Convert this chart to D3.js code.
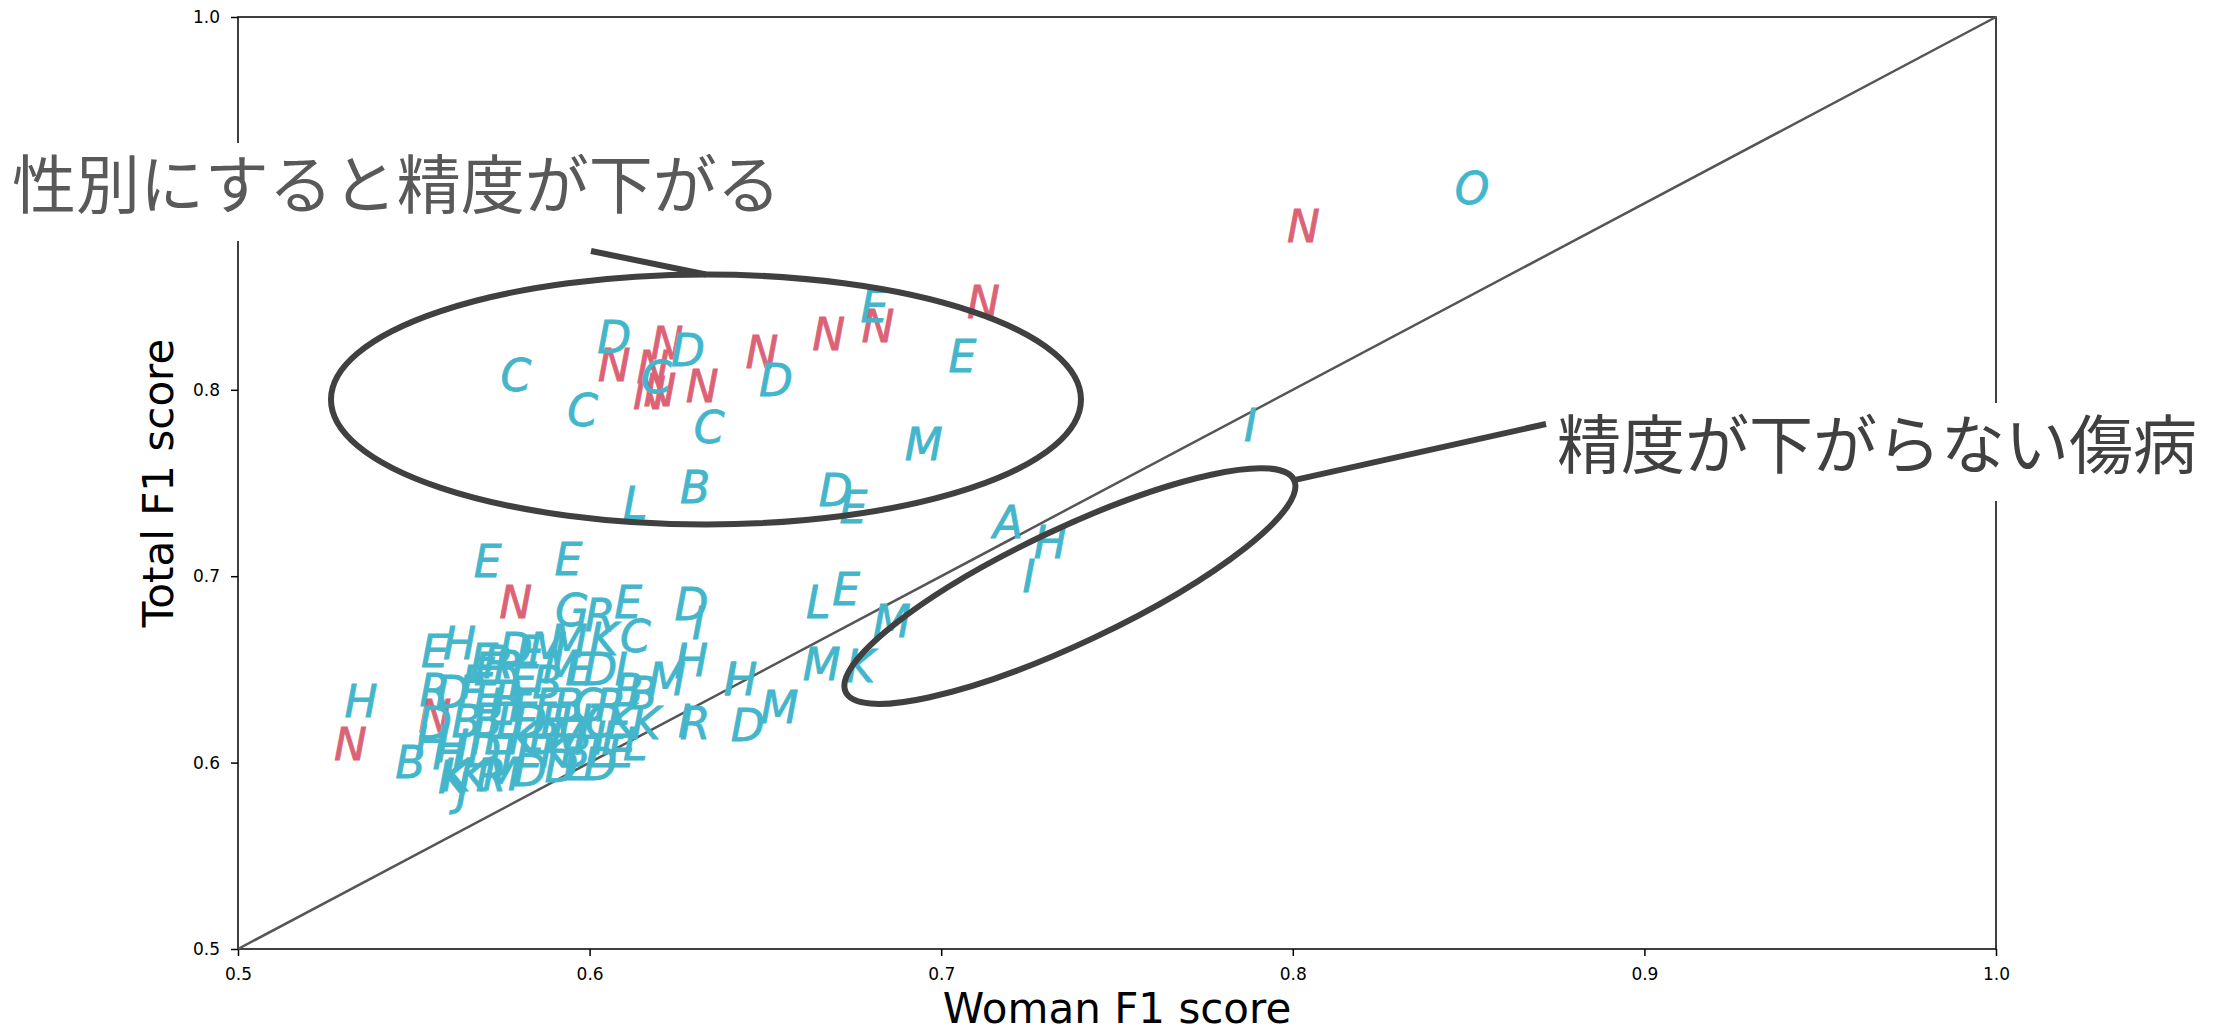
<!DOCTYPE html>
<html><head><meta charset="utf-8">
<script src="https://cdn.jsdelivr.net/npm/d3@7"></script>
<style>html,body{margin:0;padding:0;background:#fff;}</style>
</head><body>
<svg id="chart" width="2234" height="1031"></svg>
<script>
// ---- data ----
const xTicks = [0.5, 0.6, 0.7, 0.8, 0.9, 1.0];
const yTicks = [0.5, 0.6, 0.7, 0.8, 0.9, 1.0];
const xLabel = "Woman F1 score";
const yLabel = "Total F1 score";
const note1 = "性別にすると精度が下がる";
const note2 = "精度が下がらない傷病";

const labels = [
 "N","N","N","N","N","N","N","N","N","N","N","N","N","N",
 "D","D","C","C","C","C","D","E","E","M","L","B","D","E","A","H","I","I","O",
 "E","E","G","R","E","D","I","L","E","M","M","K","C","M","K","I","H","I","H","M",
 "D","I","R","K","L","M","B","H","B","E","H","E","R","D","H","K","J","R","D","E",
 "M","F","E","R","E","B","M","E","D","I","D","F","E","R","B","B","B","K","H","H",
 "K","K","R","M","D","D",
 "H","E","F","B","G","R","L","D","E","H","C","I","E","K","B","M","H","F",
 "D","J","E","K","B","L","E","L","D"
];
const womanF1 = [
 0.803,0.712,0.682,0.668,0.649,0.622,0.607,0.618,0.617,0.620,0.632,0.579,0.532,0.556,
 0.607,0.628,0.579,0.598,0.619,0.634,0.653,0.681,0.706,0.695,0.613,0.630,0.670,0.675,0.719,0.731,0.725,0.788,0.851,
 0.571,0.594,0.595,0.603,0.611,0.629,0.631,0.665,0.673,0.686,0.666,0.677,0.613,0.594,0.604,0.626,0.629,0.640,0.643,0.654,
 0.645,0.627,0.630,0.616,0.613,0.622,0.615,0.535,0.549,0.556,0.563,0.570,0.556,0.556,0.560,0.561,0.564,0.574,0.579,0.583,
 0.588,0.567,0.571,0.577,0.581,0.588,0.592,0.597,0.603,0.609,0.561,0.566,0.571,0.577,0.611,0.565,0.571,0.609,0.555,0.561,
 0.562,0.567,0.572,0.575,0.583,0.592,
 0.576,0.582,0.588,0.594,0.600,0.606,0.577,0.583,0.590,0.596,0.603,0.568,0.574,0.581,0.587,0.594,0.600,0.607,
 0.570,0.577,0.583,0.590,0.596,0.603,0.609,0.596,0.603
];
const totalF1 = [
 0.888,0.847,0.834,0.830,0.820,0.825,0.813,0.812,0.798,0.800,0.802,0.686,0.610,0.625,
 0.828,0.821,0.808,0.789,0.807,0.780,0.805,0.845,0.818,0.771,0.739,0.748,0.746,0.737,0.729,0.718,0.700,0.781,0.908,
 0.708,0.709,0.682,0.679,0.686,0.685,0.675,0.686,0.693,0.676,0.653,0.652,0.668,0.665,0.666,0.654,0.655,0.645,0.645,0.630,
 0.620,0.622,0.621,0.621,0.610,0.645,0.637,0.633,0.600,0.660,0.664,0.655,0.639,0.621,0.605,0.592,0.586,0.654,0.661,0.659,
 0.661,0.643,0.650,0.651,0.645,0.643,0.651,0.650,0.650,0.650,0.638,0.638,0.635,0.635,0.639,0.622,0.623,0.623,0.611,0.609,
 0.593,0.593,0.593,0.594,0.596,0.598,
 0.631,0.631,0.631,0.631,0.631,0.631,0.622,0.622,0.622,0.622,0.622,0.613,0.613,0.613,0.613,0.613,0.613,0.613,
 0.606,0.606,0.606,0.606,0.606,0.606,0.606,0.599,0.599
];

// ---- layout ----
const svg = d3.select("#chart");
const L = 238, R = 1996, T = 17, B = 949;
const x = d3.scaleLinear().domain([0.5, 1.0]).range([L, R]);
const y = d3.scaleLinear().domain([0.5, 1.0]).range([B, T]);

const teal = "#43b6cb", red = "#dc6276";

// axes
const gx = svg.append("g").attr("transform", `translate(0,${B})`)
  .call(d3.axisBottom(x).tickValues(xTicks).tickFormat(d3.format(".1f")).tickSize(7).tickPadding(12));
const gy = svg.append("g").attr("transform", `translate(${L},0)`)
  .call(d3.axisLeft(y).tickValues(yTicks).tickFormat(d3.format(".1f")).tickSize(7).tickPadding(11));
[gx, gy].forEach(g => {
  g.select(".domain").remove();
  g.selectAll(".tick line").attr("stroke", "#000").attr("stroke-width", 1.5);
  g.selectAll(".tick text").attr("fill", "#000").style("font-family", "DejaVu Sans").style("font-size", "17px");
});

// spines
svg.append("rect").attr("x", L).attr("y", T).attr("width", R - L).attr("height", B - T)
  .attr("fill", "none").attr("stroke", "#000").attr("stroke-width", 1.5);

// diagonal
svg.append("line").attr("x1", x(0.5)).attr("y1", y(0.5)).attr("x2", x(1.0)).attr("y2", y(1.0))
  .attr("stroke", "#555").attr("stroke-width", 2.5);

// letters
const pts = labels.map((l, i) => ({l, x: womanF1[i], y: totalF1[i]}));
svg.append("g").selectAll("text").data(pts).join("text")
  .attr("x", d => x(d.x)).attr("y", d => y(d.y))
  .attr("dy", "0.36em").attr("text-anchor", "middle")
  .style("font-family", "DejaVu Sans").style("font-style", "italic").style("font-size", "44px")
  .attr("fill", d => d.l === "N" ? red : teal)
  .attr("stroke", d => d.l === "N" ? red : teal).attr("stroke-width", 0.8)
  .text(d => d.l);

// axis labels
svg.append("text").attr("x", (L + R) / 2).attr("y", 1023).attr("text-anchor", "middle")
  .style("font-family", "DejaVu Sans").style("font-size", "42px").attr("fill", "#000").text(xLabel);
svg.append("text").attr("transform", `translate(173,${(T + B) / 2}) rotate(-90)`).attr("text-anchor", "middle")
  .style("font-family", "DejaVu Sans").style("font-size", "42px").attr("fill", "#000").text(yLabel);

// annotations
const ann = svg.append("g");
const e1 = {cx: 0.6331, cy: 0.7948, rx: 375, ry: 125};
ann.append("ellipse").attr("cx", x(e1.cx)).attr("cy", y(e1.cy)).attr("rx", e1.rx).attr("ry", e1.ry)
  .attr("fill", "none").attr("stroke", "#404040").attr("stroke-width", 6);
ann.append("line").attr("x1", 591).attr("y1", 251).attr("x2", x(e1.cx)).attr("y2", y(e1.cy) - e1.ry)
  .attr("stroke", "#404040").attr("stroke-width", 6);

const e2 = {cx: 0.7366, cy: 0.6947, rx: 248, ry: 57, rot: -25.3};
ann.append("ellipse").attr("transform", `translate(${x(e2.cx)},${y(e2.cy)}) rotate(${e2.rot})`)
  .attr("rx", e2.rx).attr("ry", e2.ry)
  .attr("fill", "none").attr("stroke", "#404040").attr("stroke-width", 6);
const a2 = e2.rot * Math.PI / 180;
ann.append("line")
  .attr("x1", x(e2.cx) + e2.rx * Math.cos(a2)).attr("y1", y(e2.cy) + e2.rx * Math.sin(a2))
  .attr("x2", 1546).attr("y2", 424)
  .attr("stroke", "#404040").attr("stroke-width", 6);

function note(txt, x0, base, color) {
  const g = svg.append("g");
  const rect = g.append("rect").attr("fill", "#fff");
  const t = g.append("text").attr("x", x0).attr("y", base)
    .style("font-family", "Noto Sans CJK JP").style("font-size", "64px").attr("fill", color).text(txt);
  const bb = t.node().getBBox();
  rect.attr("x", bb.x - 8).attr("width", bb.width + 16).attr("y", base - 65).attr("height", 98);
}
note(note1, 12, 208, "#595959");
note(note2, 1557, 468, "#404040");
</script>
</body></html>
